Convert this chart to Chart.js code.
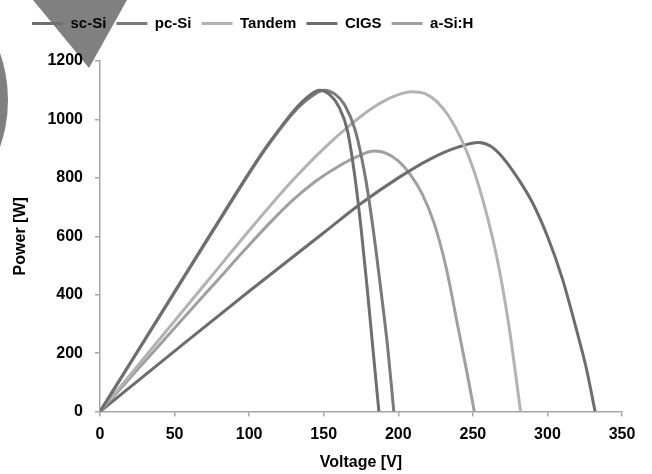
<!DOCTYPE html>
<html>
<head>
<meta charset="utf-8">
<script src="https://cdn.jsdelivr.net/npm/chart.js@4"></script>
<style>
    html, body { margin: 0; padding: 0; background: #fff; }
    #wrap { width: 652px; height: 474px; }
</style>
</head>
<body>
<div id="wrap"><canvas id="chartPV"></canvas></div>
<script>
// curves: voltage [V] / power [W]
var scSiV = [0, 25, 50, 75, 100, 110, 120, 130, 140, 147, 154, 160, 166, 171, 175, 179, 183, 187];
var scSiP = [0, 205, 410, 615, 818, 895, 965, 1030, 1080, 1100, 1085, 1045, 960, 800, 630, 430, 215, 0];

var pcSiV = [0, 25, 50, 75, 100, 110, 120, 130, 140, 150, 158, 164, 171, 178, 183, 188, 193, 197];
var pcSiP = [0, 204, 408, 612, 815, 892, 962, 1025, 1072, 1100, 1085, 1050, 965, 800, 630, 430, 215, 0];

var tandemV = [0, 25, 50, 75, 100, 115, 130, 150, 168, 180, 190, 200, 209, 218, 226, 234, 242, 250, 258, 266, 274, 282];
var tandemP = [0, 155, 310, 465, 620, 710, 796, 900, 982, 1030, 1062, 1085, 1095, 1088, 1060, 1010, 935, 835, 700, 530, 300, 0];

var cigsV = [0, 50, 100, 150, 175, 200, 222, 240, 254, 262, 270, 280, 290, 300, 310, 320, 326, 332];
var cigsP = [0, 207, 412, 612, 712, 800, 866, 905, 921, 908, 870, 800, 715, 600, 455, 270, 150, 0];

var asiV = [0, 25, 50, 75, 100, 115, 130, 145, 160, 172, 184, 192, 200, 208, 216, 224, 232, 240, 246, 251];
var asiP = [0, 143, 286, 428, 570, 652, 727, 790, 840, 872, 892, 884, 858, 812, 745, 645, 495, 290, 135, 0];

var seriesNames = ['sc-Si', 'pc-Si', 'Tandem', 'CIGS', 'a-Si:H'];
var seriesColors = ['#6f6f6f', '#7a7a7a', '#b3b3b3', '#6d6d6d', '#a0a0a0'];

var xTicks = [0, 50, 100, 150, 200, 250, 300, 350];
var yTicks = [0, 200, 400, 600, 800, 1000, 1200];

function toPoints(vs, ps) {
    return vs.map(function (v, i) {
        return { x: v, y: ps[i] };
    });
}

var curves = [[scSiV, scSiP], [pcSiV, pcSiP], [tandemV, tandemP], [cigsV, cigsP], [asiV, asiP]];

var datasets = curves.map(function (c, i) {
    return {
        label: seriesNames[i],
        data: toPoints(c[0], c[1]),
        borderColor: seriesColors[i],
        backgroundColor: seriesColors[i],
        borderWidth: 3,
        pointRadius: 0,
        cubicInterpolationMode: 'monotone',
        fill: false
    };
});

var fontFamily = "'Liberation Sans', Arial, sans-serif";
var axisFont = { family: fontFamily, size: 16, weight: 'bold' };
var legendFont = { family: fontFamily, size: 15, weight: 'bold' };
var axisGray = '#a6a6a6';

// grey shapes in the top left corner of the picture
var cornerShapes = {
    id: 'cornerShapes',
    beforeDraw: function (chart) {
        var ctx = chart.ctx;
        ctx.save();
        ctx.fillStyle = '#808080';
        ctx.beginPath();
        ctx.moveTo(33, 0);
        ctx.lineTo(127, 0);
        ctx.lineTo(89, 68);
        ctx.closePath();
        ctx.fill();
        ctx.beginPath();
        ctx.arc(-134, 100, 142, 0, Math.PI * 2);
        ctx.fill();
        ctx.restore();
    }
};

// extra room under the legend
var legendGap = {
    id: 'legendGap',
    beforeInit: function (chart) {
        var fit = chart.legend.fit;
        chart.legend.fit = function () {
            fit.bind(chart.legend)();
            this.height += 20;
        };
    }
};

var chartPV = new Chart(document.getElementById('chartPV'), {
    type: 'line',
    data: { datasets: datasets },
    plugins: [cornerShapes, legendGap],
    options: {
        responsive: true,
        maintainAspectRatio: false,
        animation: false,
        layout: { padding: { left: 22, right: 30, top: 6, bottom: 2 } },
        plugins: {
            legend: {
                position: 'top',
                align: 'start',
                labels: {
                    usePointStyle: true,
                    pointStyle: 'line',
                    pointStyleWidth: 31,
                    padding: 10,
                    color: '#000',
                    font: legendFont
                }
            },
            tooltip: { enabled: false }
        },
        scales: {
            x: {
                type: 'linear',
                min: 0,
                max: 350,
                afterBuildTicks: function (s) {
                    s.ticks = xTicks.map(function (v) { return { value: v }; });
                },
                ticks: { color: '#000', font: axisFont, padding: 8, maxRotation: 0 },
                grid: { drawOnChartArea: false, drawTicks: true, tickLength: 5, color: axisGray, lineWidth: 1.5 },
                border: { color: axisGray, width: 1.5 },
                title: { display: true, text: 'Voltage [V]', color: '#000', font: axisFont, padding: { top: 1, bottom: 0 } }
            },
            y: {
                min: 0,
                max: 1200,
                afterBuildTicks: function (s) {
                    s.ticks = yTicks.map(function (v) { return { value: v }; });
                },
                afterFit: function (s) {
                    s.width = 78;
                },
                ticks: {
                    color: '#000',
                    font: axisFont,
                    padding: 12,
                    callback: function (v) { return String(v); }
                },
                grid: { drawOnChartArea: false, drawTicks: true, tickLength: 5, color: axisGray, lineWidth: 1.5 },
                border: { color: axisGray, width: 1.5 },
                title: { display: true, text: 'Power [W]', color: '#000', font: axisFont, padding: { top: -11, bottom: 0 } }
            }
        }
    }
});
</script>
</body>
</html>
